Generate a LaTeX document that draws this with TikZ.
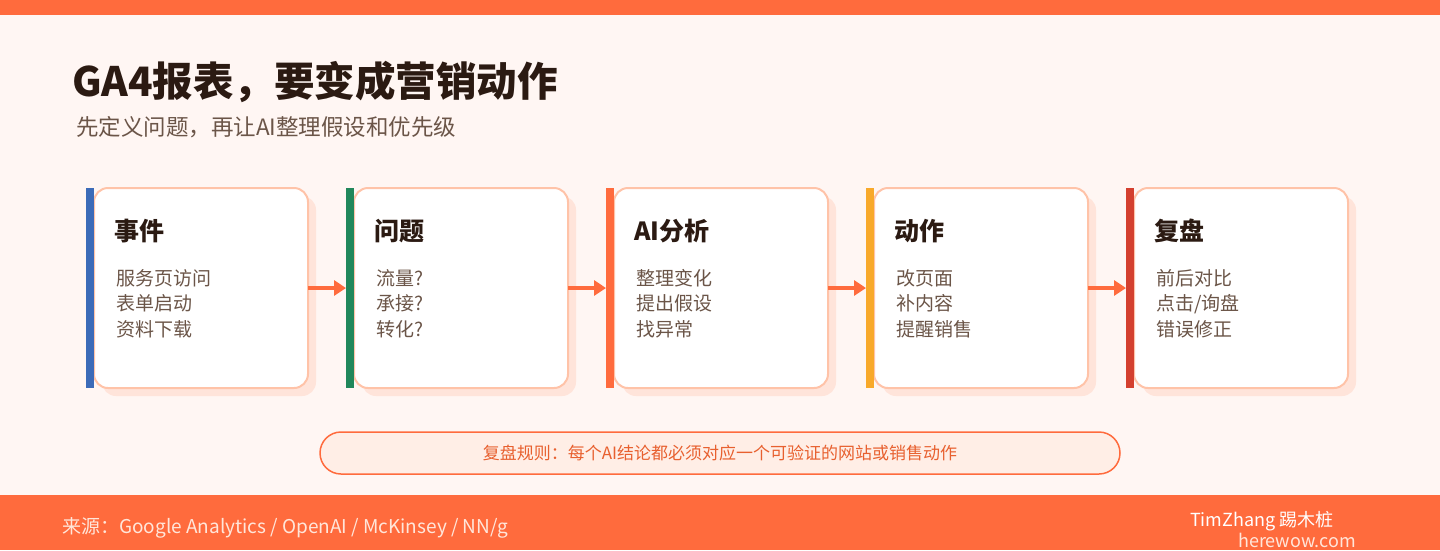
\documentclass[tikz,border=0pt]{standalone}
\usepackage{fontspec}
\setmainfont{Noto Sans CJK SC}
\usetikzlibrary{positioning, arrows.meta, calc, shadows}
\definecolor{accent}{HTML}{FF6B3D}
\definecolor{pagebg}{HTML}{FFF6F3}
\definecolor{ink}{HTML}{2B1A12}
\definecolor{browntext}{HTML}{6B5548}
\definecolor{cardline}{HTML}{FFC3A8}
\definecolor{cardshade}{HTML}{FFE4DA}
\definecolor{rulefill}{HTML}{FFEEE6}
\definecolor{ruletext}{HTML}{E8602F}
\definecolor{foottext}{HTML}{FFE6DA}
\definecolor{evblue}{HTML}{3C6BB8}
\definecolor{qgreen}{HTML}{21875B}
\definecolor{aiorange}{HTML}{FF6B3D}
\definecolor{actyellow}{HTML}{F8A92A}
\definecolor{revred}{HTML}{D4402F}

\begin{document}
\begin{tikzpicture}[
        x=1pt, y=-1pt,
        card/.style={draw=cardline, line width=2pt, fill=white, rounded corners=14pt, minimum width=214pt, minimum height=200pt, inner sep=0pt, outer sep=0pt, drop shadow={shadow xshift=8pt, shadow yshift=-8pt, fill=cardshade, opacity=1}},
        bar/.style={minimum width=8pt, minimum height=200pt, inner sep=0pt, outer sep=0pt},
        cardtitle/.style={anchor=west, inner sep=0pt, text=ink, font=\fontsize{25}{30}\selectfont\bfseries},
        items/.style={anchor=north west, inner sep=0pt, align=left, text=browntext, font=\fontsize{19}{25.5}\selectfont},
        flow/.style={-{Triangle[length=12pt, width=15pt]}, line width=3.5pt, draw=accent},
        rulebox/.style={draw=accent, line width=1.5pt, fill=rulefill, rounded corners=21pt, minimum width=800pt, minimum height=42pt, text=ruletext, font=\fontsize{17}{20}\selectfont}
    ]

    % page, top strip and footer band
    \fill[pagebg] (0,0) rectangle (1440,550);
    \fill[accent] (0,0) rectangle (1440,15);
    \fill[accent] (0,495) rectangle (1440,550);

    \node[anchor=west, inner sep=0pt, text=ink, font=\fontsize{40.5}{46}\selectfont\bfseries] (title) at (72,82) {GA4报表，要变成营销动作};
    \node[anchor=west, inner sep=0pt, text=browntext, font=\fontsize{22.5}{26}\selectfont] (subtitle) at (76,127) {先定义问题，再让AI整理假设和优先级};

    % the five steps
    \node[card] (c1) at (201,288) {};
    \node[bar, fill=evblue, left=0pt of c1] (b1) {};
    \node[cardtitle] (t1) at ($(c1.north west)+(20,43)$) {事件};
    \node[items] (i1) at ($(c1.north west)+(22,81)$) {服务页访问\\表单启动\\资料下载};

    \node[card, right=46pt of c1] (c2) {};
    \node[bar, fill=qgreen, left=0pt of c2] (b2) {};
    \node[cardtitle] (t2) at ($(c2.north west)+(20,43)$) {问题};
    \node[items] (i2) at ($(c2.north west)+(22,81)$) {流量?\\承接?\\转化?};

    \node[card, right=46pt of c2] (c3) {};
    \node[bar, fill=aiorange, left=0pt of c3] (b3) {};
    \node[cardtitle] (t3) at ($(c3.north west)+(20,43)$) {AI分析};
    \node[items] (i3) at ($(c3.north west)+(22,81)$) {整理变化\\提出假设\\找异常};

    \node[card, right=46pt of c3] (c4) {};
    \node[bar, fill=actyellow, left=0pt of c4] (b4) {};
    \node[cardtitle] (t4) at ($(c4.north west)+(20,43)$) {动作};
    \node[items] (i4) at ($(c4.north west)+(22,81)$) {改页面\\补内容\\提醒销售};

    \node[card, right=46pt of c4] (c5) {};
    \node[bar, fill=revred, left=0pt of c5] (b5) {};
    \node[cardtitle] (t5) at ($(c5.north west)+(20,43)$) {复盘};
    \node[items] (i5) at ($(c5.north west)+(22,81)$) {前后对比\\点击/询盘\\错误修正};

    \draw[flow] (c1.east) -- (b2.west);
    \draw[flow] (c2.east) -- (b3.west);
    \draw[flow] (c3.east) -- (b4.west);
    \draw[flow] (c4.east) -- (b5.west);

    \node[rulebox] (rule) at (720,453) {复盘规则：每个AI结论都必须对应一个可验证的网站或销售动作};

    % footer
    \node[anchor=west, inner sep=0pt, text=foottext, font=\fontsize{19}{22}\selectfont] (source) at (62,528) {来源：Google Analytics / OpenAI / McKinsey / NN/g};
    \node[anchor=west, inner sep=0pt, text=white, font=\fontsize{18}{22}\selectfont] (author) at (1190,521) {TimZhang 踢木桩};
    \node[anchor=west, inner sep=0pt, text=foottext, font=\fontsize{18}{22}\selectfont] (site) at (1238,540) {herewow.com};

\end{tikzpicture}
\end{document}
